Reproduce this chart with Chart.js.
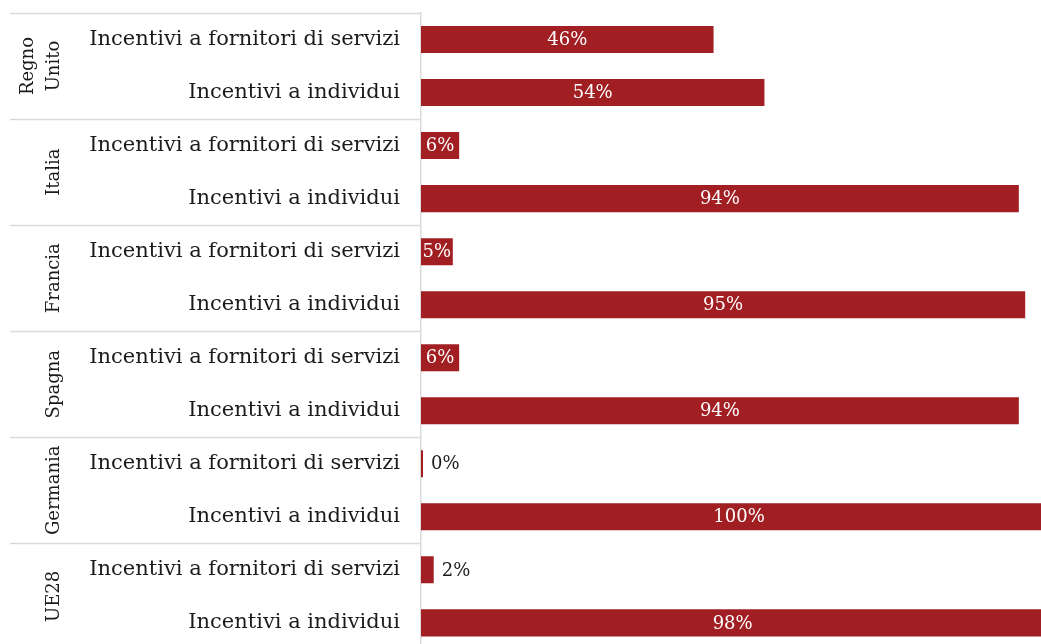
<!DOCTYPE html>
<html>
<head>
<meta charset="utf-8">
<script src="https://cdn.jsdelivr.net/npm/chart.js@4"></script>
<style>
  html, body { margin: 0; padding: 0; background: #fff; overflow: hidden; }
  #wrap { width: 1057px; height: 662px; }
</style>
</head>
<body>
<div id="wrap"><canvas id="chart" width="1057" height="662"></canvas></div>
<script>
const countries = [["Regno", "Unito"], ["Italia"], ["Francia"], ["Spagna"], ["Germania"], ["UE28"]];
const incentiveTypes = ["Incentivi a fornitori di servizi", "Incentivi a individui"];
const providerShare = [46, 6, 5, 6, 0, 2];
const individualShare = [54, 94, 95, 94, 100, 98];

const FONT = "'DejaVu Serif', 'Liberation Serif', serif";
const BAR_RED = "#a11f22";
const RULE_GREY = "#dadada";
const TEXT = "#1b1b1b";

// one row per (country, incentive type), in drawing order
const rowLabels = [];
const rowValues = [];
countries.forEach((c, i) => {
  rowLabels.push(incentiveTypes[0]);
  rowValues.push(providerShare[i]);
  rowLabels.push(incentiveTypes[1]);
  rowValues.push(individualShare[i]);
});

// percentage labels: white inside the bar, dark beside it when it does not fit
const valueLabels = {
  id: "valueLabels",
  afterDatasetsDraw(chart) {
    const ctx = chart.ctx;
    const meta = chart.getDatasetMeta(0);
    const area = chart.chartArea;
    ctx.save();
    ctx.font = "18px " + FONT;
    ctx.textBaseline = "middle";
    meta.data.forEach((bar, i) => {
      const txt = rowValues[i] + "%";
      const w = ctx.measureText(txt).width;
      const left = Math.min(bar.base, bar.x);
      const right = Math.min(Math.max(bar.base, bar.x), area.right);
      if (right - left >= w) {
        ctx.fillStyle = "#fff";
        ctx.textAlign = "center";
        ctx.fillText(txt, (left + right) / 2, bar.y + 1);
      } else {
        ctx.fillStyle = TEXT;
        ctx.textAlign = "left";
        ctx.fillText(txt, right + 8, bar.y + 1);
      }
    });
    ctx.restore();
  },
};

// rotated country names and the grey group rules on the left
const countryGroups = {
  id: "countryGroups",
  afterDraw(chart) {
    const ctx = chart.ctx;
    const area = chart.chartArea;
    const rowH = (area.bottom - area.top) / rowLabels.length;
    ctx.save();
    ctx.strokeStyle = RULE_GREY;
    ctx.lineWidth = 1.5;
    for (let g = 0; g <= countries.length; g++) {
      const yy = Math.round(area.top + g * 2 * rowH) + 0.5;
      ctx.beginPath();
      ctx.moveTo(10, yy);
      ctx.lineTo(area.left, yy);
      ctx.stroke();
    }
    ctx.fillStyle = TEXT;
    ctx.font = "18px " + FONT;
    ctx.textAlign = "center";
    ctx.textBaseline = "middle";
    countries.forEach((lines, g) => {
      const cy = area.top + (g * 2 + 1) * rowH;
      ctx.save();
      ctx.translate(54, cy);
      ctx.rotate(-Math.PI / 2);
      lines.forEach((line, k) => {
        const offset = (lines.length - 1 - k) * 26;
        ctx.fillText(line, 0, -offset);
      });
      ctx.restore();
    });
    ctx.restore();
  },
};

new Chart(document.getElementById("chart"), {
  type: "bar",
  data: {
    labels: rowLabels,
    datasets: [
      {
        data: rowValues,
        backgroundColor: BAR_RED,
        borderWidth: 0,
        barPercentage: 0.51,
        categoryPercentage: 1,
        minBarLength: 2,
      },
    ],
  },
  options: {
    indexAxis: "y",
    responsive: false,
    animation: false,
    layout: { padding: { top: 13, right: 0, left: 0, bottom: 0 } },
    plugins: {
      legend: { display: false },
      tooltip: { enabled: false },
    },
    scales: {
      x: {
        display: false,
        min: 0,
        max: 100,
      },
      y: {
        afterFit(scale) {
          scale.width = 421;
        },
        // invisible tick marks just push the labels away from the axis line
        grid: { display: false, drawTicks: true, tickLength: 21 },
        border: { display: true, color: RULE_GREY, width: 1.5 },
        ticks: {
          color: TEXT,
          padding: 0,
          font: { family: FONT, size: 21 },
        },
      },
    },
  },
  plugins: [valueLabels, countryGroups],
});
</script>
</body>
</html>
